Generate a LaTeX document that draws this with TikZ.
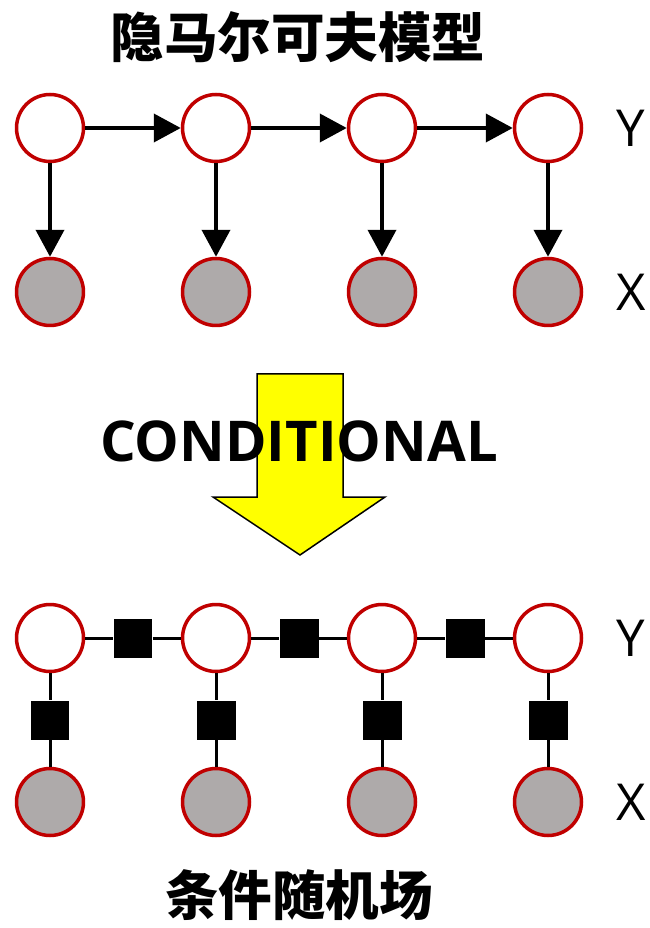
\documentclass[tikz,border=0pt]{standalone}
\usepackage{fontspec}
\setmainfont{Open Sans}
\newfontfamily\cjk{Noto Sans CJK SC}
\usetikzlibrary{arrows.meta}
\definecolor{nodered}{HTML}{C00000}
\definecolor{obsgray}{HTML}{AEAAAA}
\definecolor{arrowyellow}{HTML}{FFFF00}

\begin{document}
\begin{tikzpicture}[x=0.02cm,y=-0.02cm,
        hidden/.style={circle,draw=nodered,fill=white,line width=0.07cm,
            minimum size=1.34cm,inner sep=0pt},
        observed/.style={hidden,fill=obsgray},
        factor/.style={rectangle,fill=black,minimum size=0.78cm,inner sep=0pt},
        edge/.style={line width=0.08cm,-{Triangle[length=0.54cm,width=0.56cm]}},
        link/.style={line width=0.06cm},
        varlabel/.style={font=\fontsize{29}{32}\selectfont},
        title/.style={font=\cjk\bfseries\fontsize{30.5}{34}\selectfont}]
    \useasboundingbox (0,0) rectangle (649,928);

    % hidden markov model
    \node[title] (hmmtitle) at (298,37) {隐马尔可夫模型};
    \foreach \i/\x in {1/50,2/216,3/382,4/548} {
        \node[hidden] (hy\i) at (\x,128) {};
        \node[observed] (hx\i) at (\x,292) {};
        \draw[edge] (hy\i) -- (hx\i);
    }
    \draw[edge] (hy1) -- (hy2);
    \draw[edge] (hy2) -- (hy3);
    \draw[edge] (hy3) -- (hy4);
    \node[varlabel] (hylabel) at (631,128) {Y};
    \node[varlabel] (hxlabel) at (631,292) {X};

    % big arrow
    \draw[fill=arrowyellow,line width=0.03cm] (257,374) -- (343,374) -- (343,497) -- (385,497)
        -- (300,555) -- (213,497) -- (257,497) -- cycle;
    \node[font=\bfseries\fontsize{32}{36}\selectfont] (cond) at (299,441) {CONDITIONAL};

    % conditional random field
    \foreach \i/\x in {1/50,2/216,3/382,4/548} {
        \node[hidden] (cy\i) at (\x,638) {};
        \node[observed] (cx\i) at (\x,802) {};
        \node[factor] (fv\i) at (\x,720) {};
        \draw[link] (cy\i) -- (fv\i) -- (cx\i);
    }
    \node[factor] (fh1) at (133,638) {};
    \node[factor] (fh2) at (299,638) {};
    \node[factor] (fh3) at (465,638) {};
    \draw[link] (cy1) -- (fh1) -- (cy2);
    \draw[link] (cy2) -- (fh2) -- (cy3);
    \draw[link] (cy3) -- (fh3) -- (cy4);
    \node[varlabel] (cylabel) at (631,638) {Y};
    \node[varlabel] (cxlabel) at (631,802) {X};
    \node[title] (crftitle) at (299,895) {条件随机场};
\end{tikzpicture}
\end{document}
